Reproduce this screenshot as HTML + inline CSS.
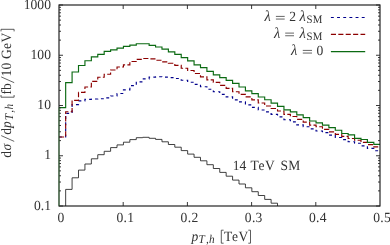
<!DOCTYPE html>
<html><head><meta charset="utf-8">
<style>
html,body{margin:0;padding:0;background:#fff;}
body{width:390px;height:245px;overflow:hidden;position:relative;font-family:"Liberation Serif",serif;}
svg{position:absolute;left:0;top:0;display:block;}
text{font-family:"Liberation Serif",serif;fill:#333;font-size:13.5px;text-rendering:geometricPrecision;}
.d{font-size:13.6px;}
.i{font-style:italic;}
.l{font-style:italic;font-size:14.6px;}
.s{font-size:10.8px;}
.s2{font-size:11.3px;}
</style></head><body>
<svg width="390" height="245" viewBox="0 0 390 245">
<rect width="390" height="245" fill="#fff"/>
<g fill="none" stroke-linejoin="miter" stroke-linecap="butt">
<path d="M59.00 137.00 L65.67 137.00 L65.67 113.40 L72.09 113.40 L72.09 104.60 L78.51 104.60 L78.51 100.90 L84.93 100.90 L84.93 99.30 L91.35 99.30 L91.35 99.00 L97.77 99.00 L97.77 98.70 L104.19 98.70 L104.19 97.90 L110.61 97.90 L110.61 96.00 L117.03 96.00 L117.03 93.50 L123.45 93.50 L123.45 89.80 L129.87 89.80 L129.87 85.60 L136.29 85.60 L136.29 81.80 L142.71 81.80 L142.71 78.80 L149.13 78.80 L149.13 77.10 L155.55 77.10 L155.55 76.75 L161.97 76.75 L161.97 77.10 L168.39 77.10 L168.39 77.60 L174.81 77.60 L174.81 78.50 L181.23 78.50 L181.23 80.20 L187.65 80.20 L187.65 82.20 L194.07 82.20 L194.07 84.40 L200.49 84.40 L200.49 86.70 L206.91 86.70 L206.91 89.20 L213.33 89.20 L213.33 91.75 L219.75 91.75 L219.75 94.30 L226.17 94.30 L226.17 96.80 L232.59 96.80 L232.59 99.80 L239.01 99.80 L239.01 101.80 L245.43 101.80 L245.43 104.80 L251.85 104.80 L251.85 107.40 L258.27 107.40 L258.27 110.00 L264.69 110.00 L264.69 111.80 L271.11 111.80 L271.11 114.30 L277.53 114.30 L277.53 116.80 L283.95 116.80 L283.95 119.70 L290.37 119.70 L290.37 121.90 L296.79 121.90 L296.79 124.90 L303.21 124.90 L303.21 126.75 L309.63 126.75 L309.63 128.80 L316.05 128.80 L316.05 131.00 L322.47 131.00 L322.47 132.60 L328.89 132.60 L328.89 135.10 L335.31 135.10 L335.31 137.50 L341.73 137.50 L341.73 139.60 L348.15 139.60 L348.15 141.70 L354.57 141.70 L354.57 143.20 L360.99 143.20 L360.99 145.80 L367.41 145.80 L367.41 148.30 L373.83 148.30 L373.83 150.70 L380.00 150.70" stroke="#00008c" stroke-width="1.15" stroke-dasharray="2.9 3.27"/>
<path d="M59.00 137.00 L65.67 137.00 L65.67 111.70 L72.09 111.70 L72.09 100.30 L78.51 100.30 L78.51 92.40 L84.93 92.40 L84.93 87.00 L91.35 87.00 L91.35 81.40 L97.77 81.40 L97.77 77.25 L104.19 77.25 L104.19 74.20 L110.61 74.20 L110.61 70.00 L117.03 70.00 L117.03 67.00 L123.45 67.00 L123.45 64.80 L129.87 64.80 L129.87 61.50 L136.29 61.50 L136.29 59.30 L142.71 59.30 L142.71 58.50 L149.13 58.50 L149.13 58.80 L155.55 58.80 L155.55 60.20 L161.97 60.20 L161.97 61.80 L168.39 61.80 L168.39 63.20 L174.81 63.20 L174.81 65.40 L181.23 65.40 L181.23 68.20 L187.65 68.20 L187.65 70.50 L194.07 70.50 L194.07 73.50 L200.49 73.50 L200.49 76.90 L206.91 76.90 L206.91 79.90 L213.33 79.90 L213.33 82.30 L219.75 82.30 L219.75 85.30 L226.17 85.30 L226.17 88.40 L232.59 88.40 L232.59 91.75 L239.01 91.75 L239.01 94.30 L245.43 94.30 L245.43 96.80 L251.85 96.80 L251.85 99.90 L258.27 99.90 L258.27 103.00 L264.69 103.00 L264.69 106.00 L271.11 106.00 L271.11 108.50 L277.53 108.50 L277.53 111.00 L283.95 111.00 L283.95 114.30 L290.37 114.30 L290.37 116.50 L296.79 116.50 L296.79 119.30 L303.21 119.30 L303.21 122.10 L309.63 122.10 L309.63 125.10 L316.05 125.10 L316.05 126.75 L322.47 126.75 L322.47 129.30 L328.89 129.30 L328.89 131.80 L335.31 131.80 L335.31 134.30 L341.73 134.30 L341.73 136.40 L348.15 136.40 L348.15 138.50 L354.57 138.50 L354.57 140.20 L360.99 140.20 L360.99 142.30 L367.41 142.30 L367.41 144.60 L373.83 144.60 L373.83 146.90 L380.00 146.90" stroke="#8c0000" stroke-width="1.15" stroke-dasharray="5.1 2.3"/>
<path d="M59.00 107.60 L65.67 107.60 L65.67 82.60 L72.09 82.60 L72.09 72.00 L78.51 72.00 L78.51 65.50 L84.93 65.50 L84.93 60.70 L91.35 60.70 L91.35 56.80 L97.77 56.80 L97.77 54.30 L104.19 54.30 L104.19 51.40 L110.61 51.40 L110.61 49.80 L117.03 49.80 L117.03 48.10 L123.45 48.10 L123.45 46.40 L129.87 46.40 L129.87 45.10 L136.29 45.10 L136.29 43.70 L142.71 43.70 L149.13 43.70 L149.13 45.35 L155.55 45.35 L155.55 47.00 L161.97 47.00 L161.97 49.05 L168.39 49.05 L168.39 51.80 L174.81 51.80 L174.81 54.35 L181.23 54.35 L181.23 57.60 L187.65 57.60 L187.65 60.90 L194.07 60.90 L194.07 64.80 L200.49 64.80 L200.49 67.60 L206.91 67.60 L206.91 71.30 L213.33 71.30 L213.33 74.90 L219.75 74.90 L219.75 77.60 L226.17 77.60 L226.17 80.30 L232.59 80.30 L232.59 83.40 L239.01 83.40 L239.01 87.00 L245.43 87.00 L245.43 90.90 L251.85 90.90 L251.85 93.60 L258.27 93.60 L258.27 97.00 L264.69 97.00 L264.69 99.70 L271.11 99.70 L271.11 103.10 L277.53 103.10 L277.53 106.40 L283.95 106.40 L283.95 109.80 L290.37 109.80 L290.37 111.80 L296.79 111.80 L296.79 114.80 L303.21 114.80 L303.21 117.60 L309.63 117.60 L309.63 121.00 L316.05 121.00 L316.05 122.90 L322.47 122.90 L322.47 125.10 L328.89 125.10 L328.89 127.60 L335.31 127.60 L335.31 130.20 L341.73 130.20 L341.73 133.50 L348.15 133.50 L348.15 134.80 L354.57 134.80 L354.57 138.40 L360.99 138.40 L360.99 139.50 L367.41 139.50 L367.41 142.40 L373.83 142.40 L373.83 144.30 L380.00 144.30" stroke="#0b6a12" stroke-width="1.15"/>
<path d="M65.67 206.00 L65.67 189.40 L72.09 189.40 L72.09 177.80 L78.51 177.80 L78.51 170.10 L84.93 170.10 L84.93 164.00 L91.35 164.00 L91.35 158.80 L97.77 158.80 L97.77 154.70 L104.19 154.70 L104.19 151.30 L110.61 151.30 L110.61 147.60 L117.03 147.60 L117.03 144.90 L123.45 144.90 L123.45 142.20 L129.87 142.20 L129.87 139.60 L136.29 139.60 L136.29 137.70 L142.71 137.70 L142.71 137.30 L149.13 137.30 L149.13 138.30 L155.55 138.30 L155.55 139.40 L161.97 139.40 L161.97 141.80 L168.39 141.80 L168.39 144.50 L174.81 144.50 L174.81 147.20 L181.23 147.20 L181.23 150.60 L187.65 150.60 L187.65 154.10 L194.07 154.10 L194.07 157.30 L200.49 157.30 L200.49 160.80 L206.91 160.80 L206.91 164.70 L213.33 164.70 L213.33 168.50 L219.75 168.50 L219.75 172.40 L226.17 172.40 L226.17 176.20 L232.59 176.20 L232.59 180.10 L239.01 180.10 L239.01 184.00 L245.43 184.00 L245.43 187.80 L251.85 187.80 L251.85 191.70 L258.27 191.70 L258.27 195.50 L264.69 195.50 L264.69 199.40 L271.11 199.40 L271.11 203.20 L277.53 203.20 L277.53 206.00" stroke="#202020" stroke-width="0.85"/>
<path d="M330.9 17.5H365.2" stroke="#00008c" stroke-width="1.15" stroke-dasharray="2.9 3.27"/>
<path d="M330.9 34.4H365.2" stroke="#8c0000" stroke-width="1.15" stroke-dasharray="5.1 2.3"/>
<path d="M330.9 51.55H365.2" stroke="#0b6a12" stroke-width="1.15"/>
</g>
<g fill="none" stroke="#222" stroke-width="0.9">
<rect x="59.0" y="5.0" width="321.00" height="201.00" stroke="#141414" stroke-width="1.12"/>
<path d="M59.0 5.00h4M380.0 5.00h-4M59.0 55.25h4M380.0 55.25h-4M59.0 105.50h4M380.0 105.50h-4M59.0 155.75h4M380.0 155.75h-4M59.0 206.00h4M380.0 206.00h-4M59.0 40.12h2M380.0 40.12h-2M59.0 31.27h2M380.0 31.27h-2M59.0 25.00h2M380.0 25.00h-2M59.0 20.13h2M380.0 20.13h-2M59.0 16.15h2M380.0 16.15h-2M59.0 12.78h2M380.0 12.78h-2M59.0 9.87h2M380.0 9.87h-2M59.0 7.30h2M380.0 7.30h-2M59.0 90.37h2M380.0 90.37h-2M59.0 81.52h2M380.0 81.52h-2M59.0 75.25h2M380.0 75.25h-2M59.0 70.38h2M380.0 70.38h-2M59.0 66.40h2M380.0 66.40h-2M59.0 63.03h2M380.0 63.03h-2M59.0 60.12h2M380.0 60.12h-2M59.0 57.55h2M380.0 57.55h-2M59.0 140.62h2M380.0 140.62h-2M59.0 131.77h2M380.0 131.77h-2M59.0 125.50h2M380.0 125.50h-2M59.0 120.63h2M380.0 120.63h-2M59.0 116.65h2M380.0 116.65h-2M59.0 113.28h2M380.0 113.28h-2M59.0 110.37h2M380.0 110.37h-2M59.0 107.80h2M380.0 107.80h-2M59.0 190.87h2M380.0 190.87h-2M59.0 182.02h2M380.0 182.02h-2M59.0 175.75h2M380.0 175.75h-2M59.0 170.88h2M380.0 170.88h-2M59.0 166.90h2M380.0 166.90h-2M59.0 163.53h2M380.0 163.53h-2M59.0 160.62h2M380.0 160.62h-2M59.0 158.05h2M380.0 158.05h-2M123.20 206.0v-4M123.20 5.0v4M187.40 206.0v-4M187.40 5.0v4M251.60 206.0v-4M251.60 5.0v4M315.80 206.0v-4M315.80 5.0v4"/>
</g>
<path d="M59.0 206.0V107.6" stroke="#2a8a30" stroke-width="1.3" stroke-opacity="0.4" fill="none"/>
<defs><filter id="ff" x="0" y="0" width="390" height="245" filterUnits="userSpaceOnUse"><feOffset dx="0" dy="0"/></filter></defs>
<g filter="url(#ff)">
<text transform="translate(50.95 8.60) scale(1 1.03)" class="d" text-anchor="end">1000</text>
<text transform="translate(50.95 58.85) scale(1 1.03)" class="d" text-anchor="end">100</text>
<text transform="translate(50.95 109.10) scale(1 1.03)" class="d" text-anchor="end">10</text>
<text transform="translate(50.95 159.35) scale(1 1.03)" class="d" text-anchor="end">1</text>
<text transform="translate(50.95 209.60) scale(1 1.03)" class="d" text-anchor="end">0.1</text>
<text transform="translate(61.00 221.70) scale(1 1.03)" class="d" text-anchor="middle">0</text>
<text transform="translate(125.35 221.70) scale(1 1.03)" class="d" text-anchor="middle" letter-spacing="0.3">0.1</text>
<text transform="translate(189.55 221.70) scale(1 1.03)" class="d" text-anchor="middle" letter-spacing="0.3">0.2</text>
<text transform="translate(253.75 221.70) scale(1 1.03)" class="d" text-anchor="middle" letter-spacing="0.3">0.3</text>
<text transform="translate(317.95 221.70) scale(1 1.03)" class="d" text-anchor="middle" letter-spacing="0.3">0.4</text>
<text transform="translate(382.15 221.70) scale(1 1.03)" class="d" text-anchor="middle" letter-spacing="0.3">0.5</text>
<text transform="translate(232.70 170.10) scale(1 1.03)" class="d">14</text>
<text transform="translate(250.60 170.10) scale(1 1.05)" letter-spacing="0.55">TeV</text>
<text transform="translate(280.60 170.10) scale(1 1.05)" letter-spacing="0.15">SM</text>
<text transform="translate(264.60 21.00) scale(1 1.05)" class="l">λ</text>
<text transform="translate(289.20 21.00) scale(1 1.03)" class="d">2</text>
<text transform="translate(299.60 21.00) scale(1 1.05)" class="l">λ</text>
<text transform="translate(306.50 22.90) scale(1 1.05)" class="s" letter-spacing="0.3">SM</text>
<path d="M275.9 16.40H284.7M275.9 19.05H284.7" stroke="#333" stroke-width="0.75" fill="none"/>
<text transform="translate(274.10 37.70) scale(1 1.05)" class="l">λ</text>
<text transform="translate(299.60 37.70) scale(1 1.05)" class="l">λ</text>
<text transform="translate(306.50 39.60) scale(1 1.05)" class="s" letter-spacing="0.3">SM</text>
<path d="M285.2 33.10H294.0M285.2 35.75H294.0" stroke="#333" stroke-width="0.75" fill="none"/>
<text transform="translate(291.00 55.00) scale(1 1.05)" class="l">λ</text>
<text transform="translate(316.60 55.00) scale(1 1.03)" class="d">0</text>
<path d="M302.8 50.40H312.0M302.8 53.05H312.0" stroke="#333" stroke-width="0.75" fill="none"/>
<text transform="translate(191.40 240.50) scale(1 1.05)" class="i">p</text>
<text transform="translate(224.00 240.50) scale(1 1.05)" letter-spacing="0.6">TeV</text>
<text transform="translate(198.50 242.70) scale(1 1.05)" class="s2 i">T</text>
<text transform="translate(205.90 242.70) scale(1 1.05)" class="s2 i">,</text>
<text transform="translate(209.00 242.70) scale(1 1.05)" class="s2 i">h</text>
<path d="M223.6 230.2H221.3V243.2H223.6M248.3 230.2H250.5V243.2H248.3" stroke="#333" stroke-width="0.8" fill="none"/>
<g transform="translate(11.2 157.8) rotate(-90)">
<text transform="translate(0.00 0) scale(1 1.05)">d</text>
<text transform="translate(7.20 0) scale(1 1.05)" class="i">σ</text>
<text transform="translate(23.00 0) scale(1 1.05)">d</text>
<text transform="translate(29.70 0) scale(1 1.05)" class="i">p</text>
<text transform="translate(63.30 0) scale(1 1.05)">fb</text>
<text transform="translate(81.40 0) scale(1 1.05)" class="d">10</text>
<text transform="translate(98.80 0) scale(1 1.05)" letter-spacing="0.35">GeV</text>
<text transform="translate(37.60 1.5) scale(1 1.05)" class="s2 i">T</text>
<text transform="translate(45.00 1.5) scale(1 1.05)" class="s2 i">,</text>
<text transform="translate(48.30 1.5) scale(1 1.05)" class="s2 i">h</text>
<path d="M62.8 -10.2H60.6V2.9H62.8M126.4 -10.2H128.5V2.9H126.4" stroke="#333" stroke-width="0.8" fill="none"/>
<path d="M16.4 3L22.2 -10M75.1 3L80.9 -10" stroke="#333" stroke-width="0.75" fill="none"/>
</g>
</g>
</svg>
</body></html>
